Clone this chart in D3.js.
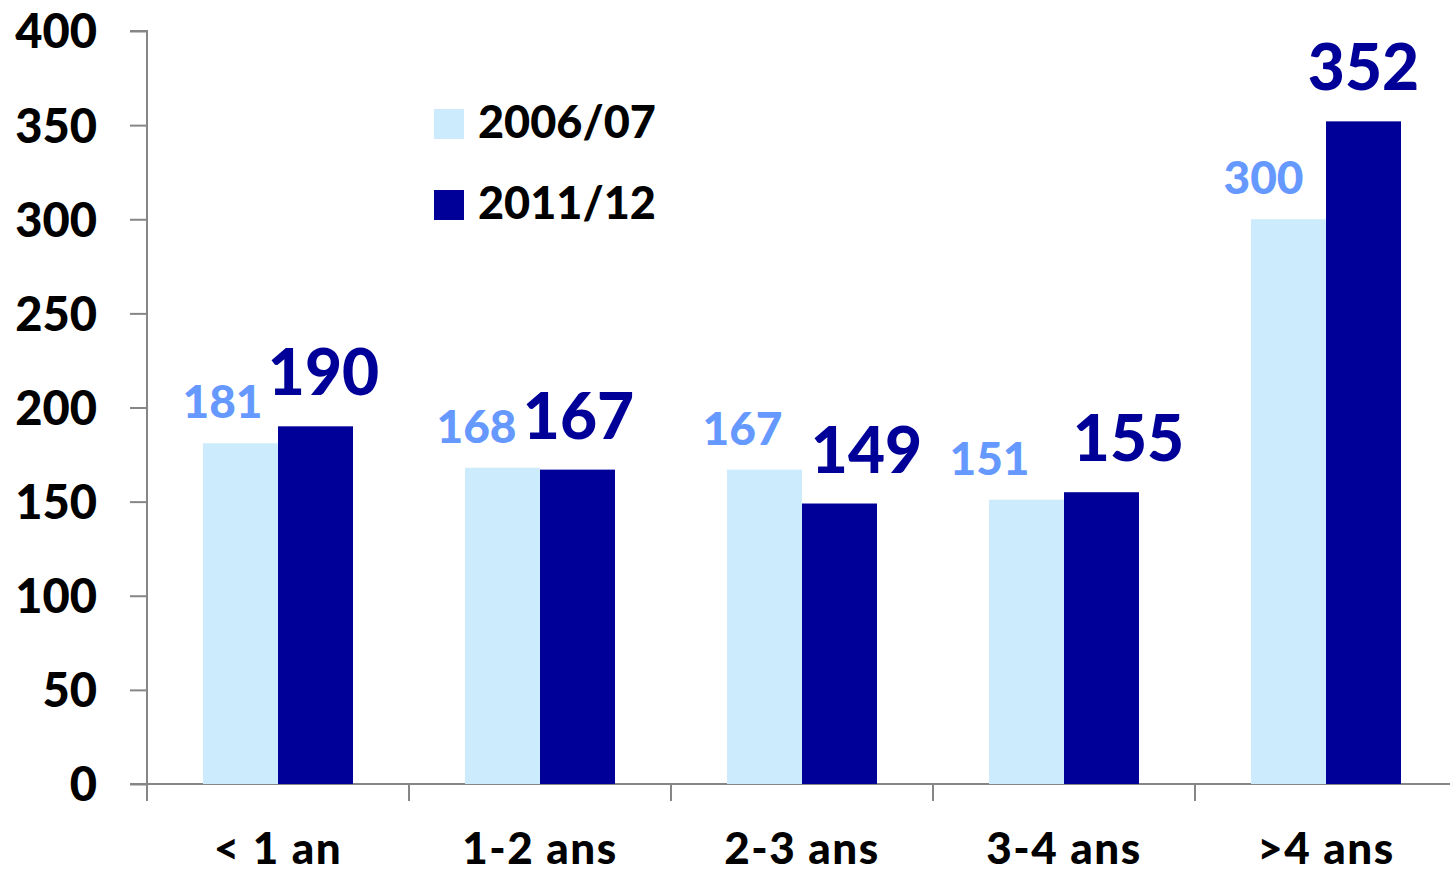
<!DOCTYPE html>
<html><head><meta charset="utf-8">
<script src="https://cdn.jsdelivr.net/npm/d3@7"></script>
<style>
html,body{margin:0;padding:0;background:#fff;overflow:hidden}
text{font-family:Lato,"Open Sans",sans-serif;font-weight:900}
</style></head>
<body>
<svg id="c" width="1450" height="874"></svg>
<script>
const categories = ["< 1 an", "1-2 ans", "2-3 ans", "3-4 ans", ">4 ans"];
const seriesNames = ["2006/07", "2011/12"];
const values0607 = [181, 168, 167, 151, 300];
const values1112 = [190, 167, 149, 155, 352];
const yTicks = [0, 50, 100, 150, 200, 250, 300, 350, 400];
// manual label nudges (px), as placed in the original
const labelDx0607 = [-18, -26, -22, -37, -25];
const labelDx1112 = [8, 1, 27, 27, 0];

const colors = ["#CCEBFC", "#000099"];
const labelColors = ["#6699FF", "#000099"];
const axisColor = "#868686";

const svg = d3.select("#c");
const x0 = 147, yBase = 784, yTop = 31;
const x = d3.scaleBand().domain(categories).range([x0, x0 + 262 * 5]).paddingInner(0).paddingOuter(0);
const y = d3.scaleLinear().domain([0, 400]).range([yBase, yTop]);

const groupW = 150;
const xInner = d3.scaleBand().domain(seriesNames).range([(x.bandwidth() - groupW) / 2, (x.bandwidth() + groupW) / 2]);

// y axis
const yAxis = d3.axisLeft(y).tickValues(yTicks).tickSize(17).tickPadding(33);
const gy = svg.append("g").attr("transform", `translate(${x0},0)`).call(yAxis);
gy.select(".domain").attr("stroke", axisColor).attr("stroke-width", 2).attr("d", `M-17,${yTop}H0V${yBase}`);
gy.selectAll(".tick line").attr("stroke", axisColor).attr("stroke-width", 2);
gy.selectAll(".tick text").attr("fill", "#000").style("font-size", "47px").attr("dy", "0.36em");

// x axis
const gx = svg.append("g");
gx.append("line").attr("x1", x0 - 17).attr("x2", 1450).attr("y1", yBase).attr("y2", yBase)
  .attr("stroke", axisColor).attr("stroke-width", 2);
const tickXs = categories.map(c => x(c)).concat([x0 + 262 * 5]);
gx.selectAll("line.ct").data(tickXs).join("line").attr("class", "ct")
  .attr("x1", d => d).attr("x2", d => d).attr("y1", yBase).attr("y2", yBase + 17)
  .attr("stroke", axisColor).attr("stroke-width", 2);
gx.selectAll("text.cl").data(categories).join("text").attr("class", "cl")
  .attr("x", d => x(d) + x.bandwidth() / 2).attr("y", 864)
  .attr("text-anchor", "middle").attr("fill", "#000").style("font-size", "44px")
  .style("letter-spacing", "1.5px").text(d => d);

// bars
const series = [values0607, values1112];
const dxs = [labelDx0607, labelDx1112];
series.forEach((vals, si) => {
  const name = seriesNames[si];
  svg.selectAll(null).data(vals).join("rect")
    .attr("x", (d, i) => x(categories[i]) + xInner(name))
    .attr("width", xInner.bandwidth())
    .attr("y", d => y(d)).attr("height", d => yBase - y(d))
    .attr("fill", colors[si]);
});
// labels
series.forEach((vals, si) => {
  const name = seriesNames[si];
  svg.selectAll(null).data(vals).join("text")
    .attr("x", (d, i) => x(categories[i]) + xInner(name) + xInner.bandwidth() / 2 + dxs[si][i])
    .attr("y", d => y(d) - (si === 0 ? 25 : 31))
    .attr("text-anchor", "middle").attr("fill", labelColors[si])
    .style("font-size", si === 0 ? "46px" : "64px").text(d => d);
});

// legend
const leg = svg.append("g");
seriesNames.forEach((n, i) => {
  leg.append("rect").attr("x", 434).attr("y", 109 + i * 81).attr("width", 30).attr("height", 30).attr("fill", colors[i]);
  leg.append("text").attr("x", 478).attr("y", 138 + i * 81).attr("fill", "#000").style("font-size", "45px").text(n);
});
</script>
</body></html>
